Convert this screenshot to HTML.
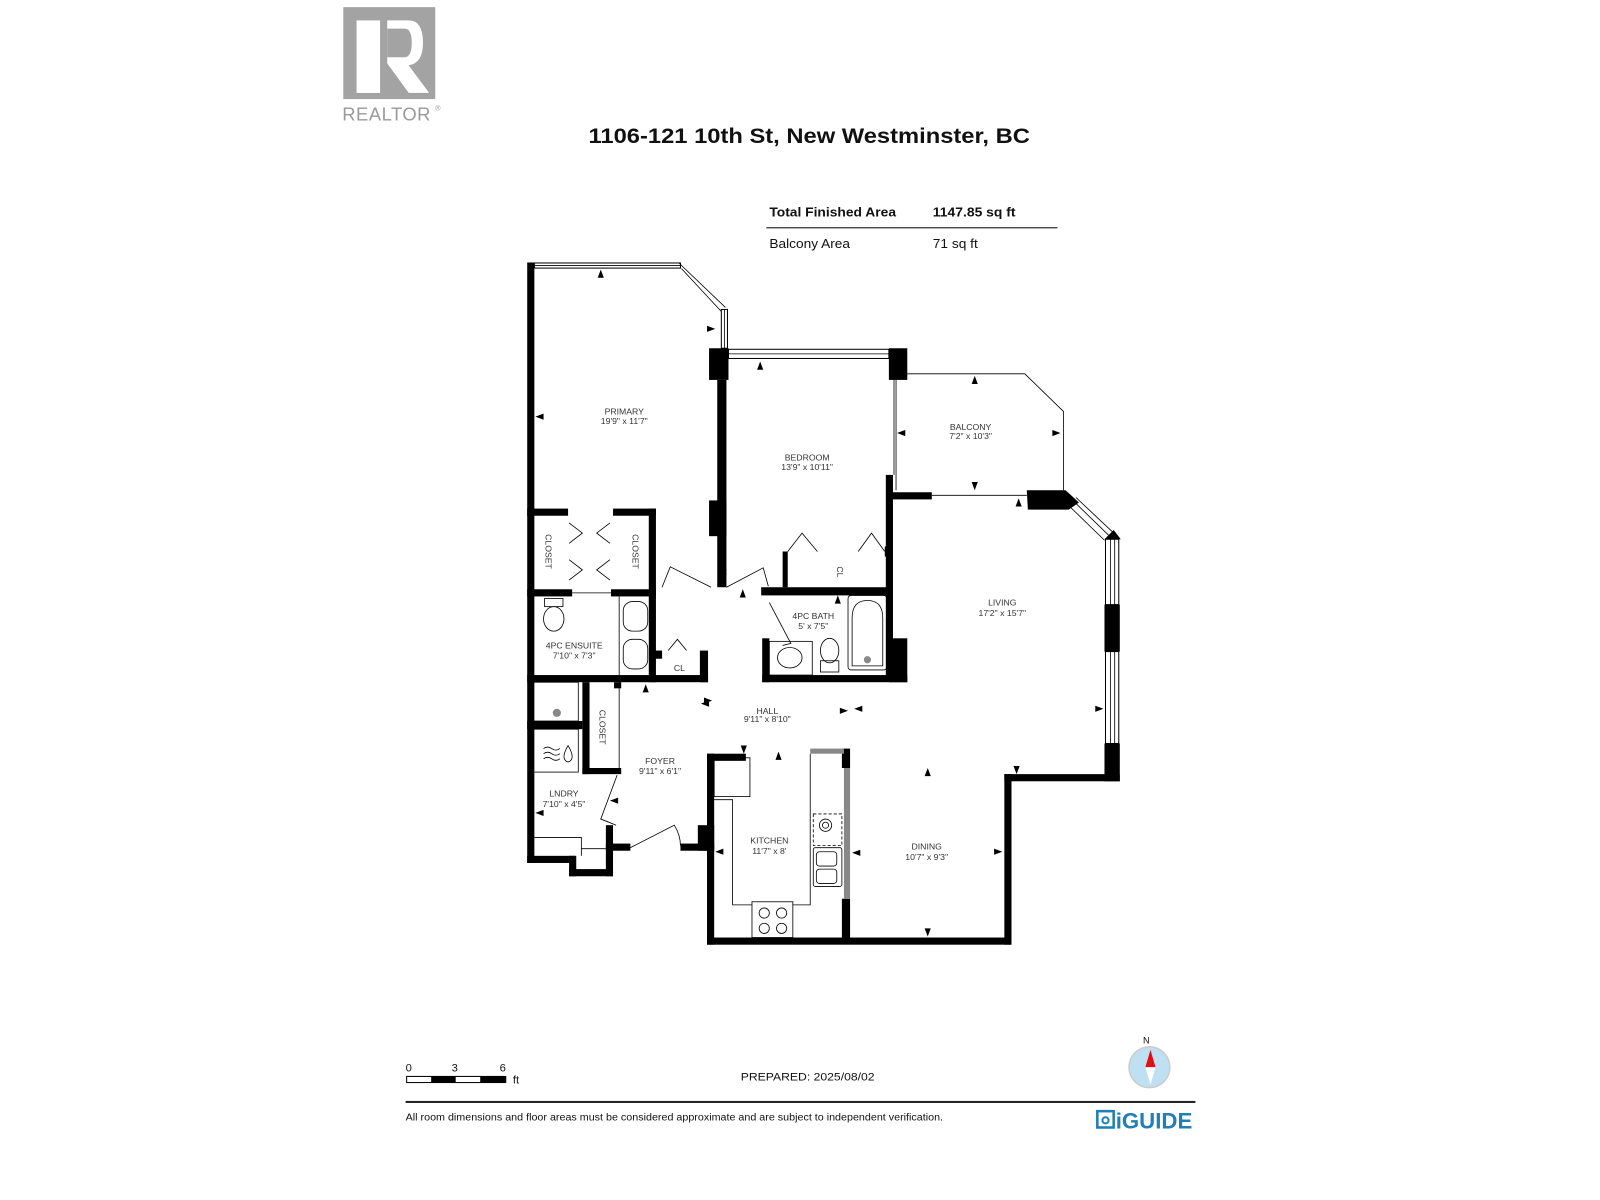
<!DOCTYPE html>
<html><head><meta charset="utf-8"><style>
html,body{margin:0;padding:0;background:#fff;}
svg{display:block;}
text{font-family:"Liberation Sans",sans-serif;}
.lb{font-size:8.5px;fill:#333;text-anchor:middle;}
</style></head><body>
<svg width="1600" height="1200" viewBox="0 0 1566 1175" preserveAspectRatio="none" xmlns="http://www.w3.org/2000/svg">
<!-- Realtor logo -->
<rect x="336" y="7" width="90" height="90" fill="#a3a3a3"/>
<rect x="349" y="20" width="23" height="71" fill="#fff"/>
<path d="M379 20 H400 Q414 20 414 42 Q414 62 400 64 L420 91 H400 L379 62 Z" fill="#fff"/>
<path d="M379 28 V56 H396 Q403 56 403 42 Q403 28 396 28 Z" fill="#a3a3a3"/>
<text x="335" y="118" font-size="18" fill="#9a9a9a" letter-spacing="0.5">REALTOR</text>
<text x="426" y="108" font-size="7" fill="#9a9a9a">®</text>
<!-- Title -->
<text x="792" y="140" font-size="21" font-weight="bold" text-anchor="middle" textLength="432" lengthAdjust="spacingAndGlyphs" fill="#111">1106-121 10th St, New Westminster, BC</text>
<!-- Table -->
<text x="753" y="212" font-size="13" font-weight="bold" fill="#111" textLength="124" lengthAdjust="spacingAndGlyphs">Total Finished Area</text>
<text x="913" y="212" font-size="13" font-weight="bold" fill="#111" textLength="81" lengthAdjust="spacingAndGlyphs">1147.85 sq ft</text>
<line x1="750" y1="223" x2="1035" y2="223" stroke="#333" stroke-width="1.2"/>
<text x="753" y="243" font-size="13" fill="#111" textLength="79" lengthAdjust="spacingAndGlyphs">Balcony Area</text>
<text x="913" y="243" font-size="13" fill="#111" textLength="44" lengthAdjust="spacingAndGlyphs">71 sq ft</text>

<g fill="#000">
<!-- Primary -->
<rect x="516" y="257" width="7" height="588"/>
<rect x="694" y="341" width="19" height="31"/>
<rect x="702" y="372" width="9" height="203"/>
<rect x="694" y="490" width="17" height="35"/>
<rect x="870" y="341" width="18" height="31"/>
<!-- closets -->
<rect x="516" y="498" width="40" height="7"/>
<rect x="600" y="498" width="42" height="7"/>
<rect x="635" y="498" width="7" height="170"/>
<rect x="516" y="577" width="44" height="7"/>
<rect x="598" y="577" width="44" height="7"/>
<rect x="516" y="661" width="177" height="7"/>
<rect x="640" y="637" width="8" height="8"/>
<rect x="685" y="637" width="8" height="31"/>
<!-- laundry -->
<rect x="570" y="668" width="7" height="90"/>
<rect x="570" y="752" width="38" height="6"/>
<rect x="516" y="706" width="54" height="8"/>
<rect x="601" y="668" width="7" height="6"/>
<rect x="516" y="838" width="47" height="7"/>
<rect x="557" y="838" width="7" height="20"/>
<rect x="557" y="851" width="43" height="7"/>
<rect x="593" y="808" width="7" height="50"/>
<rect x="593" y="826" width="24" height="7"/>
<rect x="666" y="826" width="33" height="7"/>
<rect x="683" y="808" width="16" height="25"/>
<!-- kitchen / dining -->
<rect x="692" y="738" width="7" height="187"/>
<rect x="692" y="738" width="38" height="7"/>
<rect x="692" y="918" width="298" height="7"/>
<rect x="983" y="758" width="7" height="167"/>
<rect x="983" y="758" width="113" height="7"/>
<rect x="1081" y="728" width="15" height="37"/>
<rect x="1081" y="592" width="15" height="46"/>
<rect x="824" y="733" width="8" height="19"/>
<rect x="824" y="880" width="8" height="40"/>
<!-- bath -->
<rect x="745" y="575" width="128" height="8"/>
<rect x="746" y="625" width="7" height="43"/>
<rect x="746" y="661" width="142" height="7"/>
<rect x="870" y="625" width="18" height="43"/>
<rect x="766" y="540" width="5" height="35"/>
<rect x="867" y="465" width="7" height="200"/>
<rect x="866" y="535" width="6" height="10"/>
<!-- living -->
<rect x="873" y="482" width="39" height="7"/>
<path d="M1005 480 H1043 L1056 492 L1046 499 H1006 Z"/>
<path d="M1081 528 L1090 519 L1097 528 Z"/>
</g>
<!-- windows -->
<g fill="#fff" stroke="#000" stroke-width="1">
<rect x="523" y="257.5" width="143" height="5"/>
<rect x="713" y="342" width="157" height="9"/>
<rect x="706" y="303" width="6" height="38"/>
<rect x="1082" y="528" width="13" height="64"/>
<rect x="1082" y="638" width="13" height="90"/>
</g>
<g stroke="#000" fill="none" stroke-width="0.8">
<line x1="523" y1="260" x2="666" y2="260"/>
<line x1="713" y1="346.5" x2="870" y2="346.5"/>
<line x1="709" y1="303" x2="709" y2="341"/>
<line x1="1087" y1="528" x2="1087" y2="592"/><line x1="1091" y1="528" x2="1091" y2="592"/>
<line x1="1087" y1="638" x2="1087" y2="728"/><line x1="1091" y1="638" x2="1091" y2="728"/>
<path d="M665 258 L710 301 M667 263 L706 305"/>
<path d="M1050 490 L1085 524 M1046 495 L1081 529 M1053 487 L1089 521"/>
<!-- balcony -->
<path d="M877 372 V480 M888 366 H1003 L1041 403 V480 M912 485 H1005"/>
<line x1="875" y1="372" x2="875" y2="465"/>
<!-- door swings / lines -->
<path d="M557 512 L570 522 L557 532 M597 512 L584 522 L597 532"/>
<path d="M557 548 L570 558 L557 568 M597 548 L584 558 L597 568"/>
<line x1="560" y1="580.5" x2="598" y2="580.5"/>
<path d="M648 575 L656 555 L696 575 M711 575 L747 556 L752 574"/>
<path d="M753 590 L774 630 L766 632"/>
<path d="M771 540 L785 522 L800 540 M840 540 L853 522 L866 540"/>
<path d="M654 637 L663 626 L672 637"/>
<line x1="606" y1="584" x2="606" y2="661"/>
<line x1="606" y1="674" x2="606" y2="752"/>
<path d="M604 759 L588 802 Q596 805 603 808"/>
<path d="M617 830 L660 808 Q666 818 666 828"/>
<rect x="522" y="668" width="44" height="38"/>
<rect x="522" y="714" width="44" height="42"/>
<path d="M523 820 H569 V838 M569 831 H593"/>
<!-- kitchen counters -->
<path d="M699 783 H717 V886 H736 M776 886 H793 V738"/>
<rect x="699" y="742" width="35" height="38"/>
<rect x="736" y="883" width="40" height="35"/>
<circle cx="748" cy="894" r="5"/><circle cx="765" cy="894" r="5"/>
<circle cx="748" cy="909" r="5"/><circle cx="765" cy="909" r="5"/>
<rect x="796" y="797" width="28" height="31" stroke-dasharray="3 2"/>
<circle cx="808" cy="808" r="6"/><circle cx="808" cy="808" r="3"/>
<rect x="796" y="830" width="28" height="38" rx="2"/>
<rect x="799" y="834" width="20" height="14" rx="3"/><rect x="799" y="851" width="20" height="14" rx="3"/>
<!-- bath fixtures -->
<rect x="830" y="583" width="38" height="73" rx="3"/>
<path d="M834 652 V605 Q834 588 849 588 Q864 588 864 605 V652 Z"/>
<ellipse cx="812" cy="637" rx="9" ry="12"/>
<rect x="803" y="647" width="18" height="11"/>
<rect x="753" y="628" width="42" height="33"/>
<ellipse cx="773" cy="644" rx="12" ry="10"/>
<!-- ensuite fixtures -->
<ellipse cx="542" cy="606" rx="10" ry="12"/>
<rect x="533" y="586" width="18" height="8"/>
<rect x="610" y="589" width="24" height="29" rx="9"/>
<rect x="610" y="626" width="24" height="29" rx="9"/>
<path d="M532 733 Q536 730 540 733 Q544 736 548 733 M532 738 Q536 735 540 738 Q544 741 548 738 M532 743 Q536 740 540 743 Q544 746 548 743"/>
<path d="M556 730 Q550 740 553 744 Q556 748 559 744 Q562 740 556 730 Z"/>
</g>
<g fill="#888"><rect x="826" y="752" width="6" height="128"/><rect x="793" y="733" width="33" height="5"/>
<circle cx="545" cy="698" r="4"/><circle cx="849" cy="646" r="3.5"/></g>
<!-- arrowheads -->
<g fill="#000">
<path d="M588 264 l-3 8 h6 z"/><path d="M700 322 l-8 -3 v6 z"/><path d="M524 408 l8 -3 v6 z"/>
<path d="M744 354 l-3 8 h6 z"/><path d="M878 424 l8 -3 v6 z"/><path d="M954 368 l-3 8 h6 z"/>
<path d="M1038 424 l-8 -3 v6 z"/><path d="M954 480 l-3 -8 h6 z"/><path d="M997 488 l-3 8 h6 z"/>
<path d="M1080 694 l-8 -3 v6 z"/><path d="M995 758 l-3 -8 h6 z"/><path d="M908 752 l-3 8 h6 z"/>
<path d="M908 917 l-3 -8 h6 z"/><path d="M981 834 l-8 -3 v6 z"/><path d="M834 835 l8 -3 v6 z"/>
<path d="M762 736 l-3 8 h6 z"/><path d="M728 738 l-3 -8 h6 z"/><path d="M700 834 l8 -3 v6 z"/>
<path d="M697 686 l-8 -3 v6 z"/><path d="M686 689 l8 -3 v6 z"/><path d="M830 696 l-8 -3 v6 z"/><path d="M836 694 l8 -3 v6 z"/>
<path d="M632 670 l-3 8 h6 z"/><path d="M597 784 l8 -3 v6 z"/><path d="M524 796 l8 -3 v6 z"/>
<path d="M727 577 l-3 8 h6 z"/><path d="M703 560 l8 -3 v6 z"/><path d="M820 583 l-3 8 h6 z"/>
</g>
<!-- labels -->
<g class="lb">
<text x="611" y="406">PRIMARY</text><text x="611" y="415">19'9" x 11'7"</text>
<text x="790" y="451">BEDROOM</text><text x="790" y="460">13'9" x 10'11"</text>
<text x="950" y="421">BALCONY</text><text x="950" y="430">7'2" x 10'3"</text>
<text x="981" y="593">LIVING</text><text x="981" y="603">17'2" x 15'7"</text>
<text x="796" y="606">4PC BATH</text><text x="796" y="616">5' x 7'5"</text>
<text x="562" y="635">4PC ENSUITE</text><text x="562" y="645">7'10" x 7'3"</text>
<text x="751" y="699">HALL</text><text x="751" y="707">9'11" x 8'10"</text>
<text x="646" y="748">FOYER</text><text x="646" y="758">9'11" x 6'1"</text>
<text x="552" y="780">LNDRY</text><text x="552" y="790">7'10" x 4'5"</text>
<text x="753" y="826">KITCHEN</text><text x="753" y="836">11'7" x 8'</text>
<text x="907" y="832">DINING</text><text x="907" y="842">10'7" x 9'3"</text>
<text x="665" y="657">CL</text>
<text transform="translate(534,540) rotate(90)">CLOSET</text>
<text transform="translate(619,540) rotate(90)">CLOSET</text>
<text transform="translate(587,712) rotate(90)">CLOSET</text>
<text transform="translate(819,560) rotate(90)">CL</text>
</g>
<!-- footer -->
<text x="397" y="1049" font-size="11" fill="#111">0</text>
<text x="442" y="1049" font-size="11" fill="#111">3</text>
<text x="489" y="1049" font-size="11" fill="#111">6</text>
<rect x="398" y="1054" width="97" height="6" fill="#fff" stroke="#000" stroke-width="1"/>
<rect x="422" y="1054" width="24" height="6" fill="#000"/><rect x="470" y="1054" width="25" height="6" fill="#000"/>
<text x="502" y="1061" font-size="11" fill="#111">ft</text>
<text x="725" y="1058" font-size="10.5" fill="#111" textLength="131" lengthAdjust="spacingAndGlyphs">PREPARED: 2025/08/02</text>
<text x="1122" y="1022" font-size="9" fill="#111" text-anchor="middle">N</text>
<circle cx="1125" cy="1045" r="20" fill="#bfe0f3" stroke="#ccc" stroke-width="1.5"/>
<path d="M1126 1028 L1131 1045 L1121 1045 Z" fill="#e01010"/>
<path d="M1121 1045 L1131 1045 L1126 1062 Z" fill="#fff"/>
<rect x="397" y="1078" width="773" height="2" fill="#222"/>
<text x="397" y="1097" font-size="10" fill="#111" textLength="526" lengthAdjust="spacingAndGlyphs">All room dimensions and floor areas must be considered approximate and are subject to independent verification.</text>
<rect x="1074" y="1088" width="16" height="16" fill="none" stroke="#1f7fb6" stroke-width="2.5"/>
<circle cx="1082" cy="1097" r="3" fill="none" stroke="#1f7fb6" stroke-width="2"/>
<text x="1092" y="1105" font-size="22" font-weight="bold" fill="#1f7fb6" textLength="75" lengthAdjust="spacingAndGlyphs">iGUIDE</text>
</svg>
</body></html>
